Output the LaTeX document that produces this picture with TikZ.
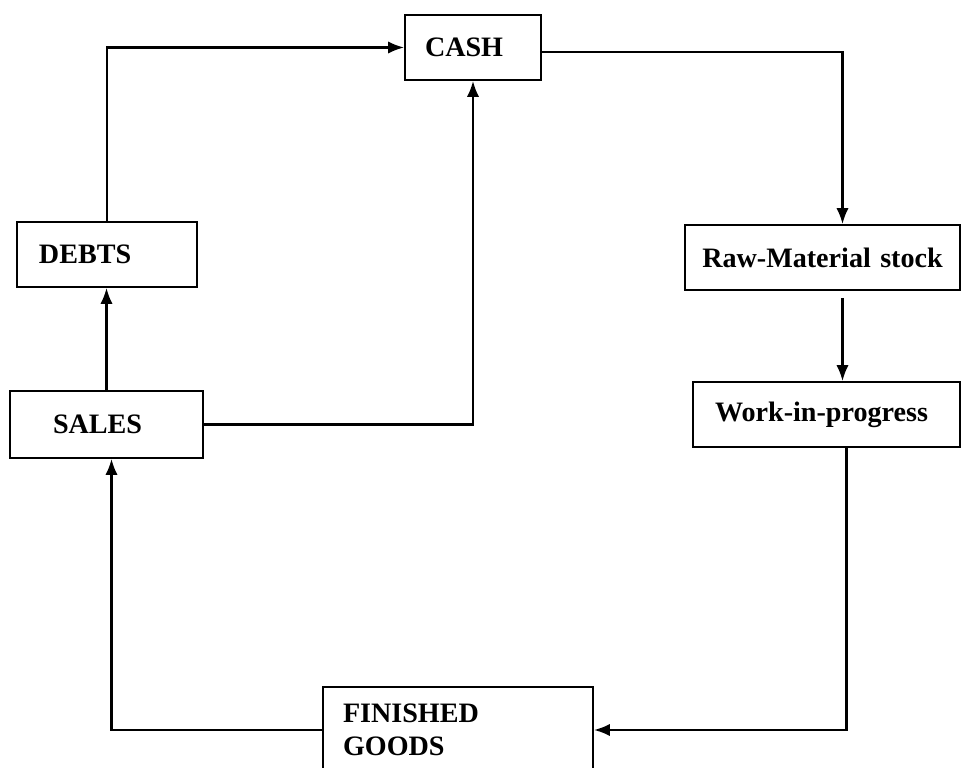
\documentclass[tikz,border=0pt]{standalone}
\usepackage{fontspec}
\setmainfont{Liberation Serif}
\usetikzlibrary{arrows.meta,positioning,calc}

\begin{document}
\begin{tikzpicture}[>={Latex[length=9pt,width=7pt]},
    blk/.style 2 args={draw, line width=1.1pt, minimum height=1.3cm,
               text width=#1, inner xsep=#2, inner ysep=0pt, align=left,
               font=\bfseries\fontsize{16}{19}\selectfont},
    arr/.style={->, line width=1.3pt}]

  \useasboundingbox (0,0) rectangle (19.22,15.36);

  %% Cycle boxes
  \node[blk={1.92cm}{0.40cm}] (cash)  at (9.46,14.41) {CASH};
  \node[blk={2.72cm}{0.44cm}] (debts) at (2.14,10.27) {DEBTS};
  \node[blk={2.14cm}{0.86cm}, minimum height=1.34cm] (sales) at (2.13,6.87) {SALES};
  \node[blk={5.10cm}{0.20cm}, align=center] (raw) at (16.45,10.21) {Raw-Material stock};
  \node[blk={4.46cm}{0.44cm}] (wip) at (16.53,7.07) {Work-in-progress};
  \node[blk={4.60cm}{0.40cm}, minimum height=1.72cm] (fin) at (9.16,0.76)
    {FINISHED\\GOODS};

  %% Flows
  \draw[arr] (debts.north) |- (cash.west);
  \draw[arr] (sales.east) -| (cash.south);
  \draw[arr] ([yshift=-0.09cm]cash.east) -| ([xshift=0.4cm]raw.north);
  \draw[arr, shorten <=0.14cm] ([xshift=0.4cm]raw.south)
    -- ([xshift=0.4cm]raw.south |- wip.north);
  \draw[arr] ([xshift=0.4cm]wip.south) |- (fin.east);
  \draw[arr] (fin.west) -| ([xshift=0.1cm]sales.south);
  \draw[arr] (sales.north) -- (sales.north |- debts.south);
\end{tikzpicture}
\end{document}
